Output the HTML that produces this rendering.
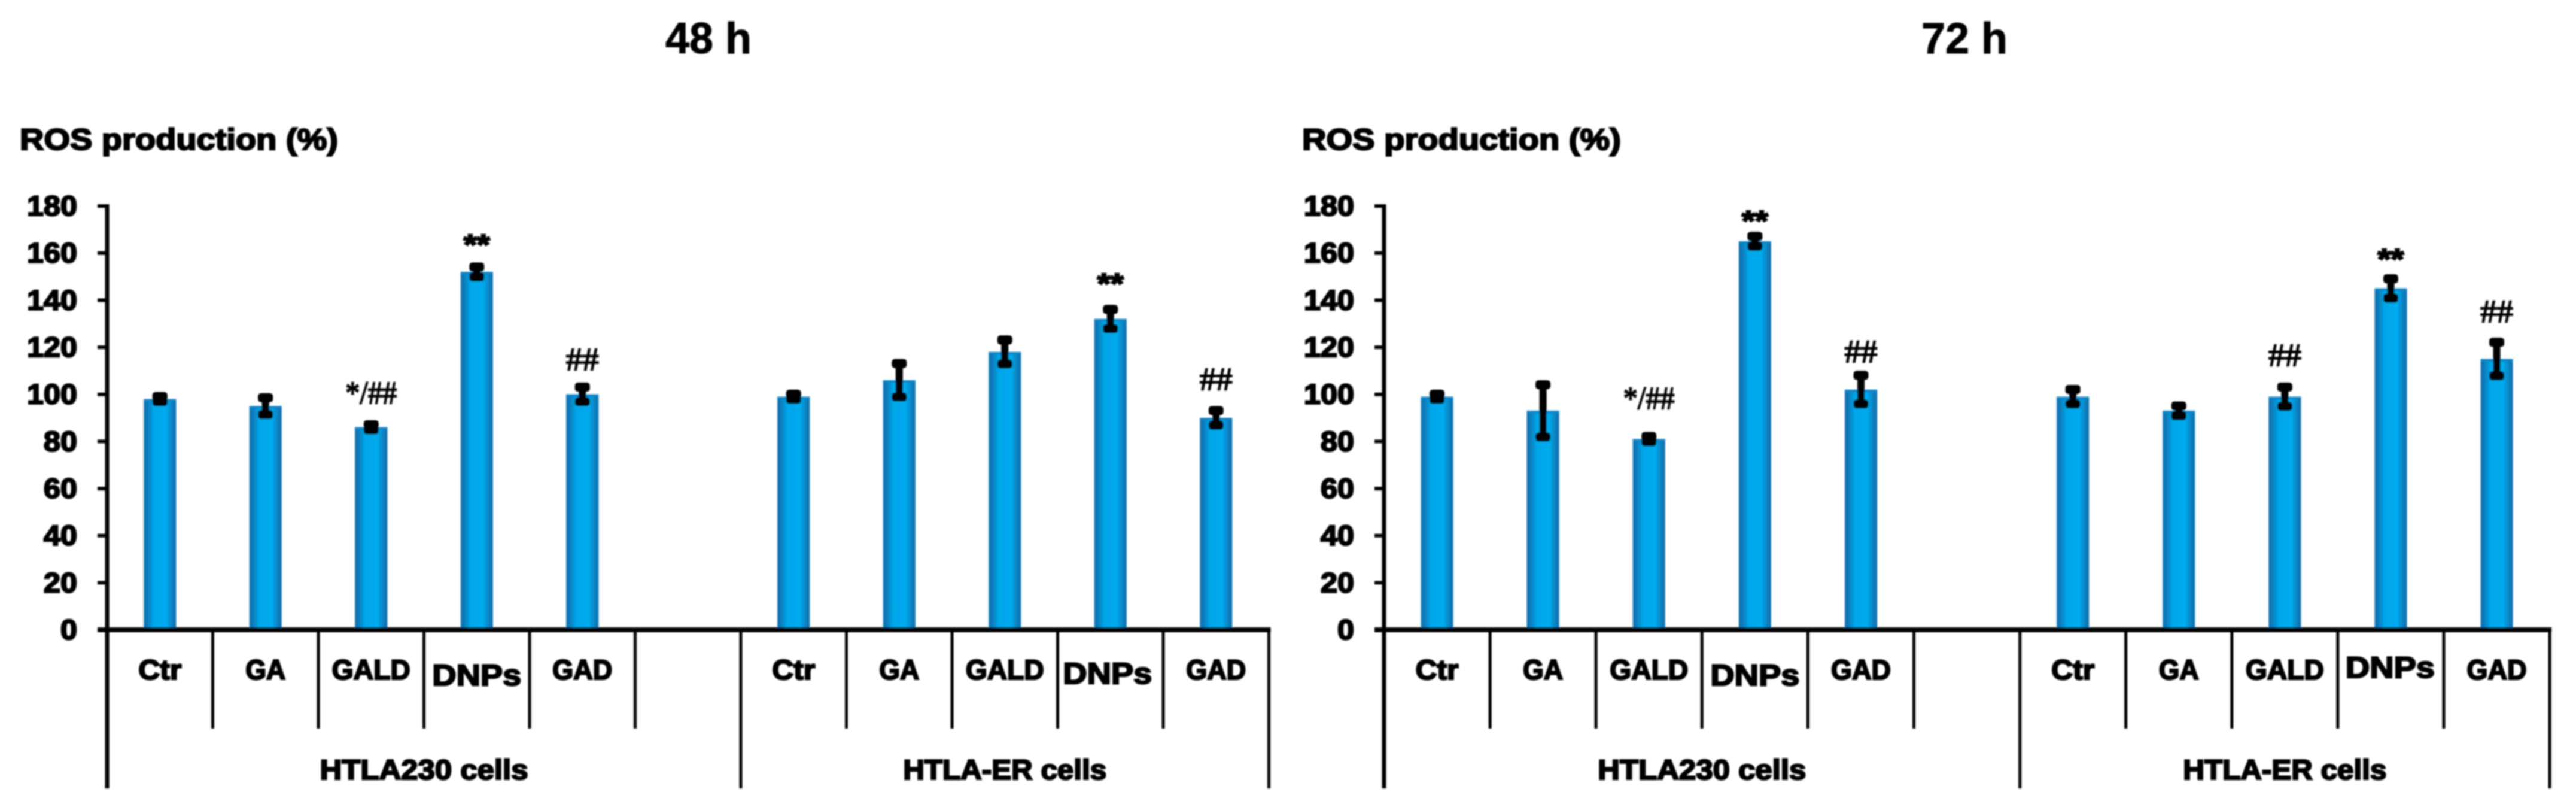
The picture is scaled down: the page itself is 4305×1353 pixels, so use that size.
<!DOCTYPE html>
<html lang="en">
<head>
<meta charset="utf-8">
<title>ROS production at 48 h and 72 h</title>
<style>
html,body{margin:0;padding:0;background:#fff;}
svg{display:block;}
text{font-family:"Liberation Sans",sans-serif;font-weight:700;fill:#000;stroke:#000;stroke-width:2.4px;}
.serif{font-family:"Liberation Serif",serif;font-weight:400;stroke-width:1.8px;}
</style>
</head>
<body>
<svg id="chart" xmlns="http://www.w3.org/2000/svg" width="4305" height="1353" viewBox="0 0 4305 1353">
  <defs>
    <linearGradient id="barFill" x1="0" y1="0" x2="1" y2="0">
      <stop offset="0" stop-color="#086fae"/>
      <stop offset=".12" stop-color="#0a7cbc"/>
      <stop offset=".3" stop-color="#02a6e8"/>
      <stop offset=".7" stop-color="#02aaee"/>
      <stop offset=".88" stop-color="#0a80c0"/>
      <stop offset="1" stop-color="#086caa"/>
    </linearGradient>
    <filter id="soft" x="-2%" y="-2%" width="104%" height="104%">
      <feGaussianBlur stdDeviation="1.3"/>
    </filter>
  </defs>
  <rect x="0" y="0" width="4305" height="1353" fill="#fff"/>
  <g id="root" filter="url(#soft)">
    <text x="1112" y="89" font-size="73" textLength="144" lengthAdjust="spacingAndGlyphs" style="stroke-width:1px">48 h</text>
    <text x="3211" y="89" font-size="73" textLength="144" lengthAdjust="spacingAndGlyphs" style="stroke-width:1px">72 h</text>
    <text x="33" y="250" font-size="50" textLength="532" lengthAdjust="spacingAndGlyphs">ROS production (%)</text>
    <text x="2176" y="250" font-size="50" textLength="533" lengthAdjust="spacingAndGlyphs">ROS production (%)</text>
  </g>
</svg>
<script>
const categories = ['Ctr','GA','GALD','DNPs','GAD','','Ctr','GA','GALD','DNPs','GAD'];
const groupLabels = ['HTLA230 cells','HTLA-ER cells'];
const tickLabels = [0,20,40,60,80,100,120,140,160,180];

const values48 = [98,95,86,152,100,null,99,106,118,132,90];
const errors48 = [3,5.5,3,4,5,null,3,9,7,6,5];
const sigLabels48 = ['','','*/##','**','##','','','','','**','##'];
const sigLevels48 = [null,null,96.1,159.4,110.3,null,null,null,null,142.9,102];

const values72 = [99,93,81,165,102,null,99,93,99,145,115];
const errors72 = [3,13,3,4,8,null,5,4,6,6,9];
const sigLabels72 = ['','','*/##','**','##','','','','##','**','##'];
const sigLevels72 = [null,null,93.8,169.6,113.7,null,null,null,112.1,153.3,130.7];

const SVGNS = 'http://www.w3.org/2000/svg';
const root = document.getElementById('root');
const Y0 = 1052, PX_PER_UNIT = 3.933;
function yScale(v){ return Y0 - v * PX_PER_UNIT; }

function make(tag, attrs, parent){
  const el = document.createElementNS(SVGNS, tag);
  for (const k in attrs) el.setAttribute(k, attrs[k]);
  parent.appendChild(el);
  return el;
}

const labelWidths = {Ctr:72,GA:67,GALD:131,DNPs:149,GAD:100};
const sigWidths = {'**':44,'##':55,'*/##':86};

function drawPanel(key, axisX, step, values, errors, sigLabels, sigLevels, dnpBase2, dnpShift2){
  const xScale = i => axisX + step * (i + 0.5);
  const panel = make('g', {}, root);
  
  

  values.forEach((v, i) => {
    if (v === null) return;
    const cx = xScale(i);
    const bar = make('rect', {x: cx - 27, y: yScale(v), width: 54, height: Y0 - yScale(v), fill: 'url(#barFill)'}, panel);
    
    
    const barTop = make('rect', {x: cx - 27, y: yScale(v), width: 54, height: 4, fill: '#0a84c6'}, panel);
    
    
  });

  values.forEach((v, i) => {
    if (v === null) return;
    const cx = xScale(i);
    const hi = yScale(v + errors[i]);
    const lo = yScale(v - errors[i]);
    const stem = make('rect', {x: cx - 6, y: hi, width: 12, height: lo - hi, fill: '#000'}, panel);
    
    
    const capTop = make('rect', {x: cx - 12.5, y: hi, width: 25, height: 15, rx: 5, fill: '#000'}, panel);
    
    
    const capBottom = make('rect', {x: cx - 12.5, y: lo - 15, width: 25, height: 15, rx: 5, fill: '#000'}, panel);
    
    
  });

  sigLabels.forEach((s, i) => {
    if (!s) return;
    const t = make('text', {
      x: xScale(i) - sigWidths[s] / 2,
      y: yScale(sigLevels[i]),
      'font-size': s === '**' ? 48 : 54,
      textLength: sigWidths[s],
      lengthAdjust: 'spacingAndGlyphs'
    }, panel);
    if (s !== '**') t.setAttribute('class', 'serif');
    t.textContent = s;
    
    
  });

  const yAxis = make('rect', {x: axisX - 3.5, y: yScale(180) - 3, width: 7, height: 1317 - yScale(180) + 3, fill: '#000'}, panel);
  
  

  tickLabels.forEach(v => {
    const yy = yScale(v);
    const tick = make('rect', {x: axisX - 16, y: yy - 3, width: 16, height: 6, fill: '#000'}, panel);
    
    
    const str = String(v);
    const w = 28 * str.length;
    const label = make('text', {x: axisX - 50 - w, y: yy + 16, 'font-size': 47, textLength: w, lengthAdjust: 'spacingAndGlyphs'}, panel);
    label.textContent = str;
    
    
  });

  const xEnd = axisX + step * categories.length;
  const xAxis = make('rect', {x: axisX - 16, y: Y0 - 4, width: xEnd - axisX + 19, height: 8, fill: '#000'}, panel);
  
  

  for (let i = 1; i <= categories.length; i++) {
    const long = i === 6 || i === categories.length;
    const sep = make('rect', {x: axisX + step * i - 2.5, y: Y0, width: 5, height: (long ? 1317 : 1217) - Y0, fill: '#000'}, panel);
    
    
  }

  categories.forEach((c, i) => {
    if (!c) return;
    const isDnp = c === 'DNPs';
    const base = isDnp ? (i > 5 ? dnpBase2 : 1145) : 1135;
    const shift = isDnp && i > 5 ? dnpShift2 : 0;
    const w = labelWidths[c];
    const t = make('text', {
      x: xScale(i) - w / 2 + shift,
      y: base,
      'font-size': isDnp ? 50 : 47,
      textLength: w,
      lengthAdjust: 'spacingAndGlyphs'
    }, panel);
    t.textContent = c;
    
    
  });

  groupLabels.forEach((g, gi) => {
    const center = axisX + step * (gi === 0 ? 3 : 8.5);
    const w = gi === 0 ? 348 : 340;
    const t = make('text', {x: center - w / 2, y: 1302, 'font-size': 47, textLength: w, lengthAdjust: 'spacingAndGlyphs'}, panel);
    t.textContent = g;
    
    
  });
}

drawPanel('48h', 179, 176.5, values48, errors48, sigLabels48, sigLevels48, 1142, -5);
drawPanel('72h', 2313, 177.1, values72, errors72, sigLabels72, sigLevels72, 1132, -1);
</script>
</body>
</html>
